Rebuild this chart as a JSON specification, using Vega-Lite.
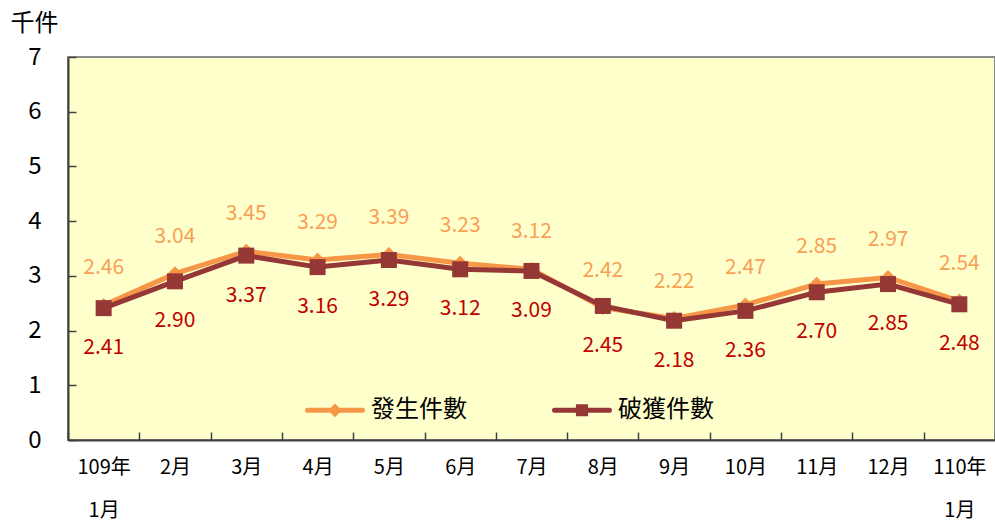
{
  "$schema": "https://vega.github.io/schema/vega-lite/v6.json",
  "width": 927,
  "height": 383,
  "autosize": "none",
  "padding": {"left": 68, "top": 57, "right": 0, "bottom": 82},
  "background": "#ffffff",
  "config": {
    "font": "Noto Sans CJK TC",
    "view": {"fill": "#FFFFCC", "stroke": "#8c8c8c", "strokeWidth": 2},
    "axis": {"grid": false, "domainColor": "#404040", "domainWidth": 2, "tickColor": "#404040", "tickWidth": 1.5, "labelColor": "#000000", "labelFont": "Noto Sans CJK TC"}
  },
  "data": {
    "values": [
      {"month": "109年|1月", "series": "發生件數", "value": 2.46},
      {"month": "2月", "series": "發生件數", "value": 3.04},
      {"month": "3月", "series": "發生件數", "value": 3.45},
      {"month": "4月", "series": "發生件數", "value": 3.29},
      {"month": "5月", "series": "發生件數", "value": 3.39},
      {"month": "6月", "series": "發生件數", "value": 3.23},
      {"month": "7月", "series": "發生件數", "value": 3.12},
      {"month": "8月", "series": "發生件數", "value": 2.42},
      {"month": "9月", "series": "發生件數", "value": 2.22},
      {"month": "10月", "series": "發生件數", "value": 2.47},
      {"month": "11月", "series": "發生件數", "value": 2.85},
      {"month": "12月", "series": "發生件數", "value": 2.97},
      {"month": "110年|1月", "series": "發生件數", "value": 2.54},
      {"month": "109年|1月", "series": "破獲件數", "value": 2.41},
      {"month": "2月", "series": "破獲件數", "value": 2.90},
      {"month": "3月", "series": "破獲件數", "value": 3.37},
      {"month": "4月", "series": "破獲件數", "value": 3.16},
      {"month": "5月", "series": "破獲件數", "value": 3.29},
      {"month": "6月", "series": "破獲件數", "value": 3.12},
      {"month": "7月", "series": "破獲件數", "value": 3.09},
      {"month": "8月", "series": "破獲件數", "value": 2.45},
      {"month": "9月", "series": "破獲件數", "value": 2.18},
      {"month": "10月", "series": "破獲件數", "value": 2.36},
      {"month": "11月", "series": "破獲件數", "value": 2.70},
      {"month": "12月", "series": "破獲件數", "value": 2.85},
      {"month": "110年|1月", "series": "破獲件數", "value": 2.48}
    ]
  },
  "encoding": {
    "x": {
      "field": "month", "type": "nominal", "sort": null,
      "scale": {"type": "band", "paddingInner": 0, "paddingOuter": 0},
      "axis": {"title": null, "labelAngle": 0, "tickBand": "extent", "tickSize": -8, "labelPadding": 25,
        "labelFontSize": 20, "labelLineHeight": 43, "labelBaseline": "top",
        "labelExpr": "isString(datum.value) ? split(datum.value, '|') : ''"}
    },
    "y": {
      "field": "value", "type": "quantitative",
      "scale": {"domain": [0, 7], "nice": false, "zero": true},
      "axis": {"values": [0, 1, 2, 3, 4, 5, 6, 7], "tickSize": -8, "labelPadding": 35, "labelFontSize": 24,
        "title": "千件", "titleAngle": 0, "titleAlign": "left", "titleBaseline": "middle", "titleX": -58, "titleY": -34,
        "titleFontSize": 24, "titleFontWeight": "normal", "titleColor": "#000000", "titleFont": "Noto Sans CJK TC"}
    }
  },
  "layer": [
    {
      "mark": {"type": "line", "strokeWidth": 5},
      "encoding": {
        "color": {
          "field": "series", "type": "nominal",
          "scale": {"domain": ["發生件數", "破獲件數"], "range": ["#F79646", "#953735"]},
          "legend": {
            "title": null, "orient": "none", "legendX": 237, "legendY": 323, "direction": "horizontal",
            "symbolSize": 3025, "symbolStrokeWidth": 5, "labelFontSize": 24, "labelColor": "#000000",
            "labelFont": "Noto Sans CJK TC", "labelOffset": 6, "columnPadding": 77,
            "encode": {
              "symbols": {
                "update": {
                  "shape": {"signal": "datum.value == '發生件數' ? 'M-1,0H1M-0.12,0L0,-0.12L0.12,0L0,0.12Z' : 'M-1,0H1M-0.13,-0.13H0.13V0.13H-0.13Z'"},
                  "fill": {"signal": "datum.value == '發生件數' ? '#F79646' : '#953735'"},
                  "stroke": {"signal": "datum.value == '發生件數' ? '#F79646' : '#953735'"},
                  "fillOpacity": {"value": 1},
                  "strokeWidth": {"value": 5},
                  "strokeCap": {"value": "round"}
                }
              }
            }
          }
        }
      }
    },
    {
      "transform": [{"filter": "datum.series == '發生件數'"}],
      "mark": {"type": "point", "shape": "diamond", "filled": true, "size": 220, "color": "#F79646", "opacity": 1}
    },
    {
      "transform": [{"filter": "datum.series == '破獲件數'"}],
      "mark": {"type": "point", "shape": "square", "filled": true, "size": 256, "color": "#953735", "opacity": 1}
    },
    {
      "transform": [{"filter": "datum.series == '發生件數'"}],
      "mark": {"type": "text", "dy": -37, "fontSize": 21, "color": "#F8A055", "baseline": "middle", "font": "Noto Sans CJK TC"},
      "encoding": {"text": {"field": "value", "type": "quantitative", "format": ".2f"}}
    },
    {
      "transform": [{"filter": "datum.series == '破獲件數'"}],
      "mark": {"type": "text", "dy": 40, "fontSize": 21, "color": "#C00000", "baseline": "middle", "font": "Noto Sans CJK TC"},
      "encoding": {"text": {"field": "value", "type": "quantitative", "format": ".2f"}}
    }
  ]
}
